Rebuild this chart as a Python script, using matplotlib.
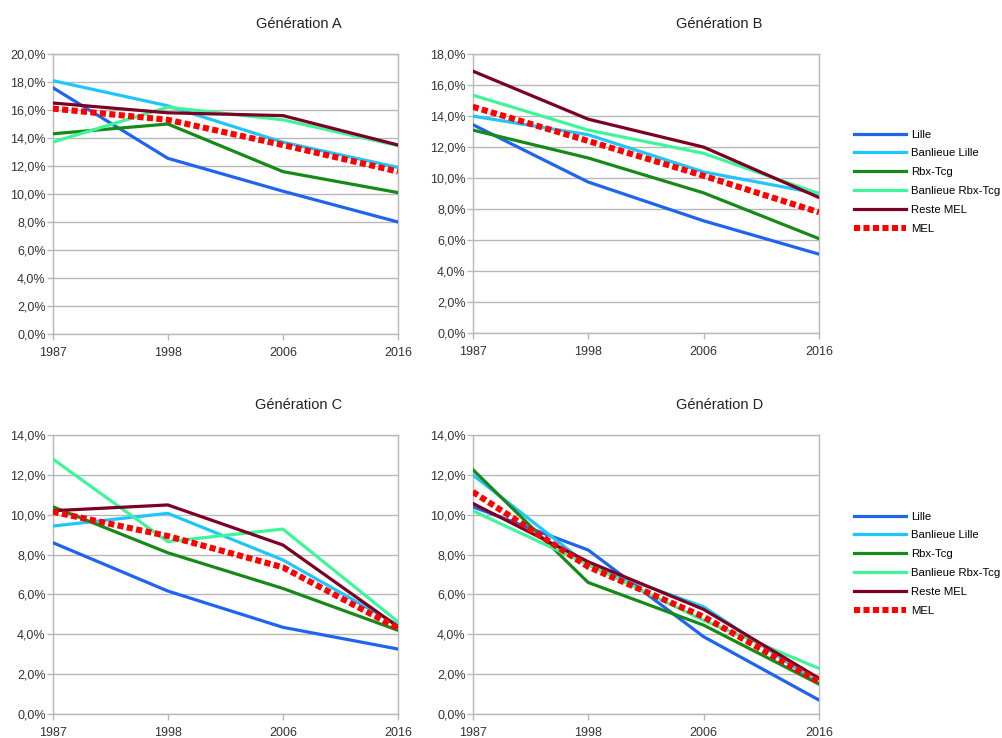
import numpy as np
import matplotlib
matplotlib.use("Agg")
import matplotlib.pyplot as plt
from matplotlib.ticker import FuncFormatter, MultipleLocator

plt.rcParams['font.family'] = ['Liberation Sans', 'DejaVu Sans']

years = ['1987', '1998', '2006', '2016']
zones = ['Lille', 'Banlieue Lille', 'Rbx-Tcg', 'Banlieue Rbx-Tcg', 'Reste MEL', 'MEL']

# parts (%) par génération
gen_a = {
    'Lille':            [17.6, 12.55, 10.2, 8.0],
    'Banlieue Lille':   [18.1, 16.3, 13.7, 11.9],
    'Rbx-Tcg':          [14.3, 15.0, 11.6, 10.1],
    'Banlieue Rbx-Tcg': [13.7, 16.2, 15.3, 13.45],
    'Reste MEL':        [16.5, 15.8, 15.6, 13.5],
    'MEL':              [16.1, 15.3, 13.5, 11.6],
}
gen_b = {
    'Lille':            [13.45, 9.75, 7.25, 5.1],
    'Banlieue Lille':   [14.0, 12.8, 10.4, 9.0],
    'Rbx-Tcg':          [13.1, 11.3, 9.05, 6.1],
    'Banlieue Rbx-Tcg': [15.35, 13.1, 11.6, 9.0],
    'Reste MEL':        [16.9, 13.8, 12.0, 8.75],
    'MEL':              [14.6, 12.4, 10.15, 7.8],
}
gen_c = {
    'Lille':            [8.6, 6.17, 4.35, 3.26],
    'Banlieue Lille':   [9.43, 10.07, 7.73, 4.46],
    'Rbx-Tcg':          [10.4, 8.09, 6.3, 4.2],
    'Banlieue Rbx-Tcg': [12.8, 8.65, 9.28, 4.63],
    'Reste MEL':        [10.2, 10.49, 8.48, 4.38],
    'MEL':              [10.15, 8.93, 7.36, 4.3],
}
gen_d = {
    'Lille':            [10.4, 8.23, 3.88, 0.7],
    'Banlieue Lille':   [12.0, 7.47, 5.38, 1.54],
    'Rbx-Tcg':          [12.27, 6.6, 4.46, 1.5],
    'Banlieue Rbx-Tcg': [10.2, 7.5, 4.7, 2.29],
    'Reste MEL':        [10.57, 7.64, 5.25, 1.79],
    'MEL':              [11.15, 7.39, 4.88, 1.62],
}

titles = ['Génération A', 'Génération B', 'Génération C', 'Génération D']
ymax = [20, 18, 14, 14]

colors = {
    'Lille': '#1f64ee',
    'Banlieue Lille': '#1ec6fb',
    'Rbx-Tcg': '#168a16',
    'Banlieue Rbx-Tcg': '#3ff59a',
    'Reste MEL': '#7b0022',
    'MEL': '#ff0000',
}

W, H = 1003, 738
fig = plt.figure(figsize=(W / 100, H / 100), dpi=100)

# left, top, right, bottom in pixels
boxes = [(52.7, 54, 398, 334), (472.7, 54, 819, 333.3),
         (52.7, 435, 398, 714), (472.7, 435, 819, 714)]

fmt = FuncFormatter(lambda v, p: ('%.1f%%' % v).replace('.', ','))
grey = '#b8b8b8'
x = np.arange(len(years))

axes = []
for i, data in enumerate([gen_a, gen_b, gen_c, gen_d]):
    l, t, r, b = boxes[i]
    ax = fig.add_axes([l / W, 1 - b / H, (r - l) / W, (b - t) / H])
    for z in zones:
        if z == 'MEL':
            ax.plot(x, data[z], color=colors[z], lw=4.4, dashes=(1.0, 0.55),
                    label=z, zorder=5)
        else:
            ax.plot(x, data[z], color=colors[z], lw=2.3, label=z, zorder=3)
    ax.set_xlim(0, 3)
    ax.set_ylim(0, ymax[i])
    ax.set_xticks(x)
    ax.set_xticklabels(years)
    ax.yaxis.set_major_locator(MultipleLocator(2))
    ax.yaxis.set_major_formatter(fmt)
    ax.grid(axis='y', color=grey, lw=1)
    ax.set_axisbelow(True)
    for s in ax.spines.values():
        s.set_color(grey)
        s.set_linewidth(1)
    ax.tick_params(colors=grey, labelcolor='#333333', labelsize=9, length=4, width=1)
    ax.tick_params(axis='x', pad=5)
    ax.tick_params(axis='y', pad=1)
    # titre centré sur la zone graphique + légende (style LibreOffice)
    ax.set_title(titles[i], fontsize=10.5, color='#222222', pad=19, x=0.713)
    axes.append(ax)

for k, yl in enumerate([125, 507]):
    h, lab = axes[2 * k].get_legend_handles_labels()
    fig.legend(h, lab, loc='upper left', bbox_to_anchor=(849 / W, 1 - yl / H),
               frameon=False, fontsize=8.2, handlelength=4.6, handletextpad=0.45,
               labelspacing=0.78, borderaxespad=0)

fig.savefig('out.png', dpi=100, facecolor='white')
